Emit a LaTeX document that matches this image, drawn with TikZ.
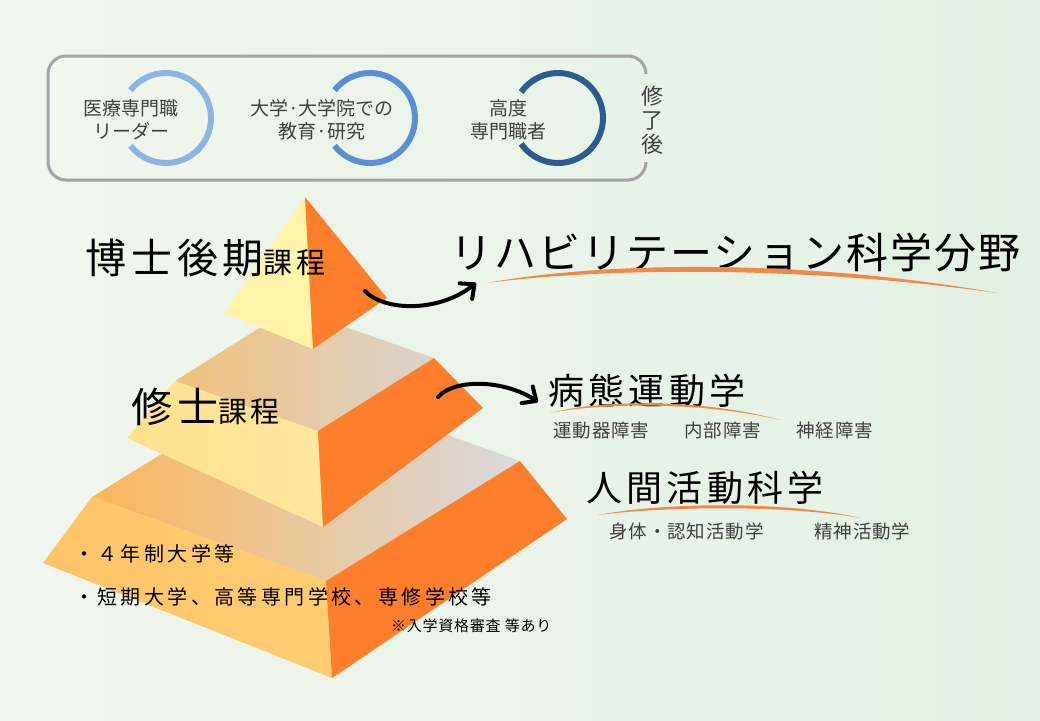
\documentclass[tikz,border=0pt]{standalone}
\usepackage{xcolor}
\usepackage{fontspec}
\setmainfont{Noto Sans CJK JP}
\newfontfamily\titlefont[LetterSpace=12]{Noto Sans CJK JP}
\newfontfamily\fieldfont[LetterSpace=5]{Noto Sans CJK JP}
\newfontfamily\listfont[LetterSpace=17]{Noto Sans CJK JP}
\usetikzlibrary{arrows.meta}

\definecolor{bgleft}{RGB}{241,246,237}
\definecolor{bgright}{RGB}{226,241,227}
\definecolor{boxgray}{RGB}{163,163,163}
\definecolor{textgray}{RGB}{64,64,64}
\definecolor{ringlight}{RGB}{142,180,227}
\definecolor{ringmid}{RGB}{90,143,210}
\definecolor{ringdark}{RGB}{47,92,142}
\definecolor{sideorange}{RGB}{253,127,43}
\definecolor{swooshorange}{RGB}{240,136,72}
\definecolor{basetopl}{RGB}{250,182,92}
\definecolor{basetopr}{RGB}{217,217,221}
\definecolor{baseleftl}{RGB}{255,196,104}
\definecolor{baseleftr}{RGB}{255,204,114}
\definecolor{midtopl}{RGB}{240,192,124}
\definecolor{midtopr}{RGB}{218,212,204}
\definecolor{midleftl}{RGB}{255,224,142}
\definecolor{midleftr}{RGB}{255,231,160}
\definecolor{peakyellow}{RGB}{255,244,169}

\begin{document}
\begin{tikzpicture}[x=1pt, y=-1pt,
    ring/.style={line width=6pt},
    boxtext/.style={inner sep=0pt, align=center, text=textgray,
                    font=\fontsize{19}{23}\selectfont},
    sublabel/.style={anchor=base west, inner sep=0pt, text=textgray,
                     font=\fieldfont\fontsize{18.5}{20}\selectfont},
    bentarrow/.style={line width=4pt, line cap=round,
                      -{Straight Barb[length=11pt, width=20pt, round]}},
    swoosh/.style={fill=swooshorange}]
    \useasboundingbox (0,0) rectangle (1040,720);
    \shade[left color=bgleft, right color=bgright] (0,0) rectangle (1040,720);
    %\draw[help lines, step=40] (0,0) grid (1040,720);

    % top box, open on the right
    \draw[boxgray, line width=3pt, rounded corners=18]
                        (646,74)
                        -- (646,56)
                        -- (48,56)
                        -- (48,180)
                        -- (646,180)
                        -- (646,162);
    \coordinate (leadring) at (166,118);
    \coordinate (eduring) at (370,118);
    \coordinate (proring) at (558,118);
    \draw[ring, ringlight] (leadring) ++(142:45) arc[start angle=142, end angle=-142, radius=45];
    \draw[ring, ringmid] (eduring) ++(142:45) arc[start angle=142, end angle=-142, radius=45];
    \draw[ring, ringdark] (proring) ++(145:45) arc[start angle=145, end angle=-145, radius=45];
    \node[boxtext] (lead) at (131,120) {医療専門職\\リーダー};
    \node[boxtext] (edu) at (322,120) {大学·大学院での\\教育·研究};
    \node[boxtext] (pro) at (508,120) {高度\\専門職者};
    \node[inner sep=0pt, align=center, text=textgray,
          font=\fontsize{22}{24}\selectfont] (after) at (652,120) {修\\了\\後};

    % bottom tier
    \shade[left color=basetopl, right color=basetopr]
            (92,497) -- (286,377) -- (520,461) -- (326,581) -- cycle;
    \shade[left color=baseleftl, right color=baseleftr]
            (43,563) -- (92,497) -- (326,581) -- (332,678) -- cycle;
    \fill[sideorange] (326,581) -- (520,461) -- (567,519) -- (332,678) -- cycle;

    % middle tier
    \shade[left color=midtopl, right color=midtopr]
            (175,381) -- (291,308) -- (434,358) -- (318,431) -- cycle;
    \shade[left color=midleftl, right color=midleftr]
            (127,438) -- (175,381) -- (318,431) -- (323,527) -- cycle;
    \fill[sideorange] (318,431) -- (434,358) -- (483,408) -- (323,527) -- cycle;

    % top
    \fill[peakyellow] (305,197) -- (224,313) -- (313,349) -- cycle;
    \fill[sideorange] (305,197) -- (313,349) -- (387,298) -- cycle;

    % course names
    \node[anchor=base west, inner sep=0pt] (doctor) at (85,273)
        {\titlefont\fontsize{41}{44}\selectfont 博士後期\fontsize{29}{30}\selectfont 課程};
    \node[anchor=base west, inner sep=0pt] (master) at (131,422)
        {\titlefont\fontsize{41}{44}\selectfont 修士\fontsize{29}{30}\selectfont 課程};

    % fields
    \node[anchor=base west, inner sep=0pt, font=\fieldfont\fontsize{42}{46}\selectfont] (rehab) at (450,268)
        {リハビリテーション科学分野};
    \fill[swoosh] (487,283) .. controls (600,262) and (800,258) .. (997,293)
                            .. controls (800,265) and (600,268) .. cycle;
    \node[anchor=base west, inner sep=0pt, font=\titlefont\fontsize{36}{40}\selectfont] (patho) at (548,404)
        {病態運動学};
    \fill[swoosh] (550,413) .. controls (600,400) and (700,398) .. (780,420)
                            .. controls (700,401) and (600,403) .. cycle;
    \node[sublabel] (motor) at (553,437) {運動器障害};
    \node[sublabel] (internal) at (684,437) {内部障害};
    \node[sublabel] (neuro) at (796,437) {神経障害};
    \node[anchor=base west, inner sep=0pt, font=\titlefont\fontsize{36}{40}\selectfont] (human) at (586,501)
        {人間活動科学};
    \fill[swoosh] (598,515) .. controls (660,503) and (780,500) .. (861,518)
                            .. controls (780,504) and (660,507) .. cycle;
    \node[sublabel] (cognit) at (609,538) {身体・認知活動学};
    \node[sublabel] (mental) at (814,538) {精神活動学};

    % arrows
    \coordinate (docfrom) at (365,291);
    \coordinate (docto) at (476,283);
    \draw[bentarrow] (docfrom) .. controls +(20,21) and +(-36,29) .. (docto);
    \coordinate (masfrom) at (438,397);
    \coordinate (masto) at (538,402);
    \draw[bentarrow] (masfrom) .. controls +(17,-19) and +(-33,-22) .. (masto);

    % admission
    \node[anchor=base west, inner sep=0pt, font=\listfont\fontsize{20}{22}\selectfont] (univ) at (74,561)
        {・４年制大学等};
    \node[anchor=base west, inner sep=0pt, font=\listfont\fontsize{20}{22}\selectfont] (college) at (74,604)
        {・短期大学、高等専門学校、専修学校等};
    \node[anchor=base west, inner sep=0pt, font=\fieldfont\fontsize{15}{17}\selectfont] (note) at (391,631)
        {※入学資格審査 等あり};
\end{tikzpicture}
\end{document}
